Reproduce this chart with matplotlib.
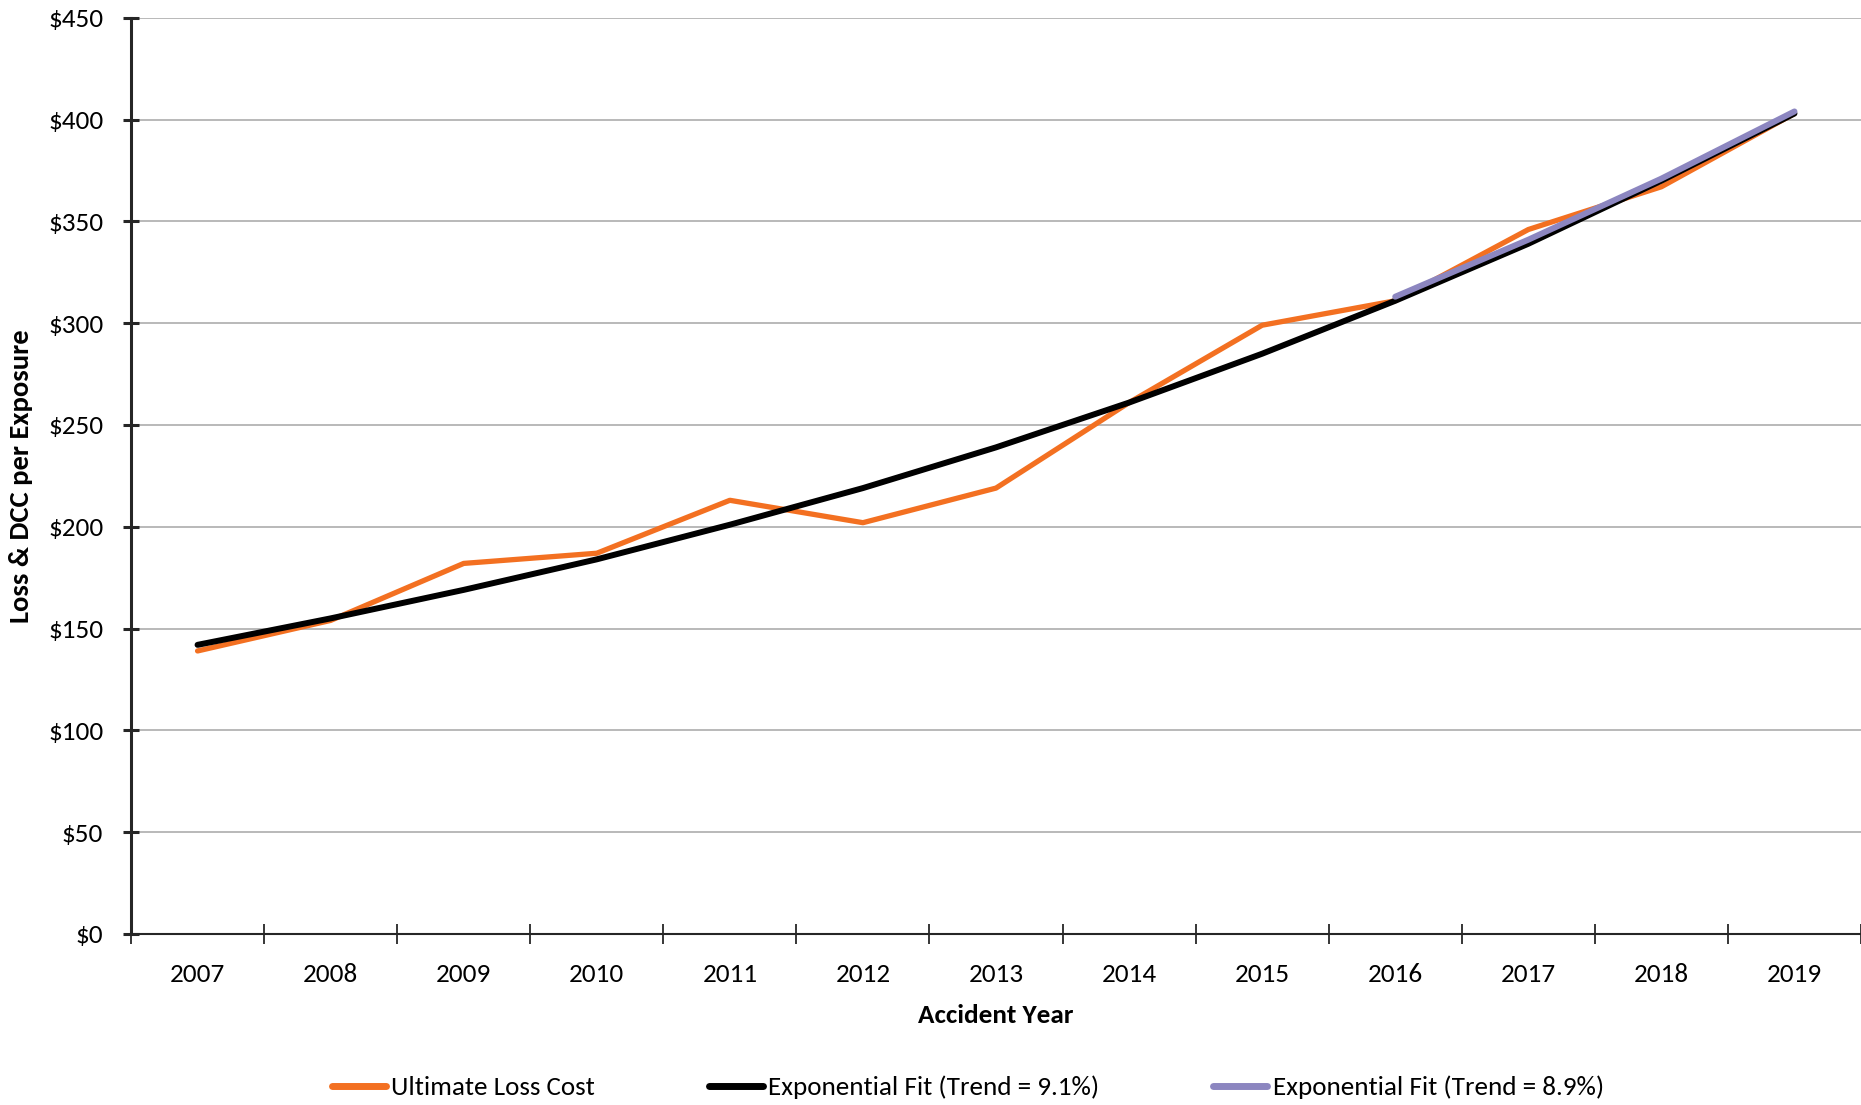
import matplotlib
matplotlib.use("Agg")
import matplotlib.pyplot as plt
from matplotlib import font_manager
from matplotlib.lines import Line2D
from matplotlib.ticker import FixedLocator, FuncFormatter

# Data
years = [2007, 2008, 2009, 2010, 2011, 2012, 2013, 2014, 2015, 2016, 2017, 2018, 2019]
ultimate_loss_cost = [139, 154, 182, 187, 213, 202, 219, 261, 299, 311, 346, 367, 403]
fit_all_years = [142, 155, 169, 184, 201, 219, 239, 261, 285, 311, 339, 370, 403]
fit_years_recent = [2016, 2017, 2018, 2019]
fit_recent = [313, 341, 371, 404]
series_labels = ["Ultimate Loss Cost",
                 "Exponential Fit (Trend = 9.1%)",
                 "Exponential Fit (Trend = 8.9%)"]
y_ticks = [0, 50, 100, 150, 200, 250, 300, 350, 400, 450]

# Pick a narrow humanist sans if available
installed = {f.name for f in font_manager.fontManager.ttflist}
family = "DejaVu Sans"
for cand in ["Carlito", "Calibri", "Liberation Sans Narrow", "Lato", "Open Sans"]:
    if cand in installed:
        family = cand
        break
plt.rcParams["font.family"] = [family, "DejaVu Sans"]

FS = 19.5

ORANGE = "#F37021"
BLACK = "#000000"
PURPLE = "#8C86C0"
AXIS = "#262626"
GRID = "#A6A6A6"

fig = plt.figure(figsize=(18.61, 11.05), dpi=100)
ax = fig.add_axes([0.0704, 0.1548, 0.9296, 0.8291])

ax.plot(years, ultimate_loss_cost, color=ORANGE, lw=3.8, solid_capstyle="round",
        solid_joinstyle="round", zorder=3)
ax.plot(years, fit_all_years, color=BLACK, lw=4.3, solid_capstyle="round",
        solid_joinstyle="round", zorder=4)
ax.plot(fit_years_recent, fit_recent, color=PURPLE, lw=4.3, solid_capstyle="round",
        solid_joinstyle="round", zorder=5)

ax.set_xlim(years[0] - 0.5, years[-1] + 0.5)
ax.set_ylim(0, 450)

# Axis styling
for side in ["top", "right"]:
    ax.spines[side].set_visible(False)
ax.spines["left"].set_color(AXIS)
ax.spines["left"].set_linewidth(2.2)
ax.spines["bottom"].set_color(AXIS)
ax.spines["bottom"].set_linewidth(1.5)

ax.yaxis.set_major_locator(FixedLocator(y_ticks))
ax.yaxis.set_major_formatter(FuncFormatter(lambda v, p: f"${v:,.0f}"))
ax.yaxis.grid(True, color=GRID, lw=1.1)
ax.set_axisbelow(True)
ax.tick_params(axis="y", direction="inout", length=12, width=2.2, color=AXIS,
               pad=14, labelsize=FS)

# Category labels at centers, tick marks on category boundaries
ax.xaxis.set_major_locator(FixedLocator(years))
ax.xaxis.set_minor_locator(FixedLocator([y - 0.5 for y in years] + [years[-1] + 0.5]))
ax.tick_params(axis="x", which="major", length=0, pad=21, labelsize=FS)
ax.tick_params(axis="x", which="minor", direction="inout", length=15, width=1.3,
               color=AXIS)
ax.set_xticklabels([str(y) for y in years])

ax.set_xlabel("Accident Year", fontsize=FS, fontweight="bold", labelpad=13)
fig.text(0.0113, 0.5694, "Loss & DCC per Exposure", rotation=90, fontsize=20.5,
         fontweight="bold", ha="center", va="center")

handles = [Line2D([], [], color=c, lw=5, solid_capstyle="round")
           for c in (ORANGE, BLACK, PURPLE)]
fig.legend(handles, series_labels, ncol=3, loc="center",
           bbox_to_anchor=(0.520, 0.016), frameon=False, fontsize=FS,
           handlelength=2.0, handletextpad=0.2, columnspacing=4.2)

fig.savefig("out.png", dpi=100)
